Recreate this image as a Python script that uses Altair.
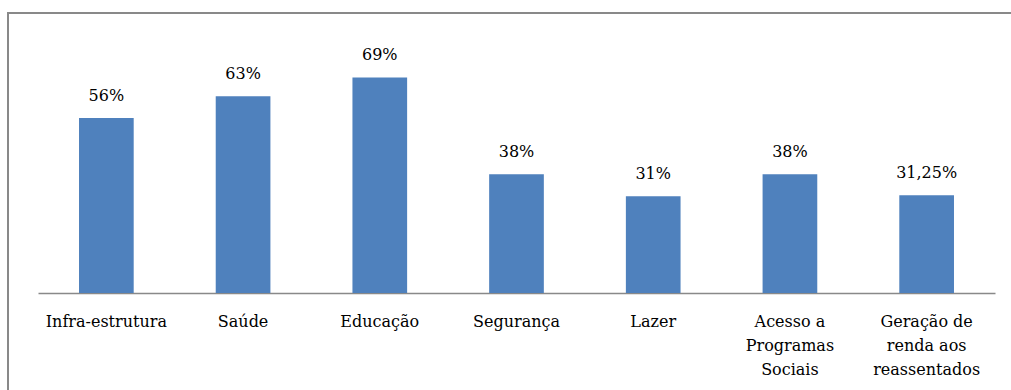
import altair as alt
import pandas as pd

categories = ["Infra-estrutura", "Saúde", "Educação", "Segurança", "Lazer",
              "Acesso a|Programas|Sociais", "Geração de|renda aos|reassentados"]
values = [0.56, 0.63, 0.69, 0.38, 0.31, 0.38, 0.3125]
labels = ["56%", "63%", "69%", "38%", "31%", "38%", "31,25%"]

df = pd.DataFrame({"cat": categories, "val": values, "lab": labels})

FONT = "DejaVu Serif"

x = alt.X("cat:N", sort=categories, title=None,
          scale=alt.Scale(paddingInner=0.6, paddingOuter=0.3),
          axis=alt.Axis(labelAngle=0, ticks=False, domainColor="#898989", domainWidth=1.5,
                        labelFont=FONT, labelFontSize=16, labelColor="#000000",
                        labelPadding=33, labelBaseline="alphabetic", labelLineHeight=24,
                        labelExpr="split(datum.label, '|')", labelLimit=0))
y = alt.Y("val:Q", scale=alt.Scale(domain=[0, 0.8]), axis=None)

bars = alt.Chart(df).mark_bar(color="#4F81BD").encode(x=x, y=y)
text = alt.Chart(df).mark_text(font=FONT, fontSize=16, baseline="alphabetic", dy=-17,
                               color="#000000").encode(x=x, y=y, text="lab:N")

border = alt.Chart(df).mark_rect(fill=None, stroke="#898989", strokeWidth=2, clip=False).encode(
    x=alt.value(-30), x2=alt.value(1100), y=alt.value(-30), y2=alt.value(500))

chart = alt.layer(border, bars, text).properties(
    width=957, height=250,
    autosize=alt.AutoSizeParams(type="none"),
    padding={"left": 38, "top": 43, "right": 16, "bottom": 97},
).configure_view(stroke=None)

chart.save("out.html", embed_options={"renderer": "svg", "actions": False})
